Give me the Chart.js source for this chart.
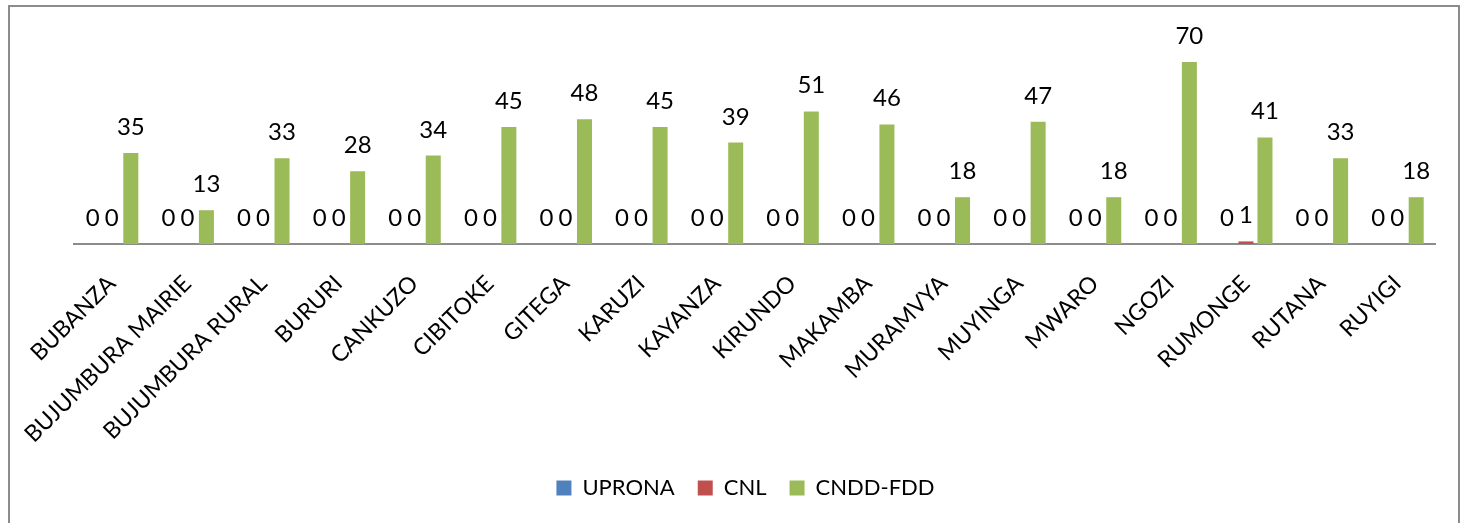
<!DOCTYPE html>
<html>
<head>
<meta charset="utf-8">
<script src="https://cdn.jsdelivr.net/npm/chart.js@4.4.1/dist/chart.umd.min.js"></script>
<style>
    html, body { margin: 0; padding: 0; background: #fff; overflow: hidden; }
    #wrap { position: relative; width: 1468px; height: 523px; }
    #frame { position: absolute; left: 8px; top: 5px; width: 1452px; height: 530px; border: 2px solid #8c8c8c; box-sizing: border-box; pointer-events: none; }
</style>
</head>
<body>
<div id="wrap">
    <canvas id="chart" width="1468" height="523"></canvas>
    <div id="frame"></div>
</div>
<script>
// provinces and seats per party
const provinces = ['BUBANZA', 'BUJUMBURA MAIRIE', 'BUJUMBURA RURAL', 'BURURI', 'CANKUZO', 'CIBITOKE',
    'GITEGA', 'KARUZI', 'KAYANZA', 'KIRUNDO', 'MAKAMBA', 'MURAMVYA', 'MUYINGA', 'MWARO', 'NGOZI',
    'RUMONGE', 'RUTANA', 'RUYIGI'];
const uprona = [0, 0, 0, 0, 0, 0, 0, 0, 0, 0, 0, 0, 0, 0, 0, 0, 0, 0];
const cnl = [0, 0, 0, 0, 0, 0, 0, 0, 0, 0, 0, 0, 0, 0, 0, 1, 0, 0];
const cnddFdd = [35, 13, 33, 28, 34, 45, 48, 45, 39, 51, 46, 18, 47, 18, 70, 41, 33, 18];

const FONT = 'Lato, "Open Sans", sans-serif';

// value labels above each bar
const valueLabels = {
    id: 'valueLabels',
    afterDatasetsDraw(chart) {
        const ctx = chart.ctx;
        ctx.save();
        ctx.font = '24px ' + FONT;
        ctx.fillStyle = '#000';
        ctx.textAlign = 'center';
        ctx.textBaseline = 'alphabetic';
        chart.data.datasets.forEach((ds, i) => {
            chart.getDatasetMeta(i).data.forEach((bar, j) => {
                ctx.fillText(String(ds.data[j]), bar.x, bar.y - 18);
            });
        });
        ctx.restore();
    }
};

// the legend sits a bit left of the plot centre in the original
const legendShift = {
    id: 'legendShift',
    afterLayout(chart) {
        chart.legend.left -= 9;
        chart.legend.right -= 9;
    }
};

new Chart(document.getElementById('chart'), {
    type: 'bar',
    data: {
        labels: provinces,
        datasets: [
            { label: 'UPRONA', data: uprona, backgroundColor: '#4f81bd' },
            { label: 'CNL', data: cnl, backgroundColor: '#c0504d' },
            { label: 'CNDD-FDD', data: cnddFdd, backgroundColor: '#9bbb59' }
        ]
    },
    options: {
        responsive: false,
        animation: false,
        categoryPercentage: 0.754,
        barPercentage: 0.79,
        layout: { padding: { left: 74, right: 33, top: 36, bottom: 14 } },
        scales: {
            x: {
                grid: { display: false, drawTicks: false },
                border: { display: true, color: '#8c8c8c', width: 2 },
                ticks: {
                    autoSkip: false,
                    maxRotation: 45,
                    minRotation: 45,
                    padding: 26,
                    color: '#000',
                    font: { family: FONT, size: 23 }
                },
                afterFit(scale) { scale.height = 210; }
            },
            y: { display: false, min: 0, max: 80 }
        },
        plugins: {
            legend: {
                position: 'bottom',
                labels: {
                    boxWidth: 15,
                    boxHeight: 15,
                    padding: 23,
                    color: '#000',
                    font: { family: FONT, size: 22 }
                }
            },
            tooltip: { enabled: false }
        }
    },
    plugins: [valueLabels, legendShift]
});
</script>
</body>
</html>
